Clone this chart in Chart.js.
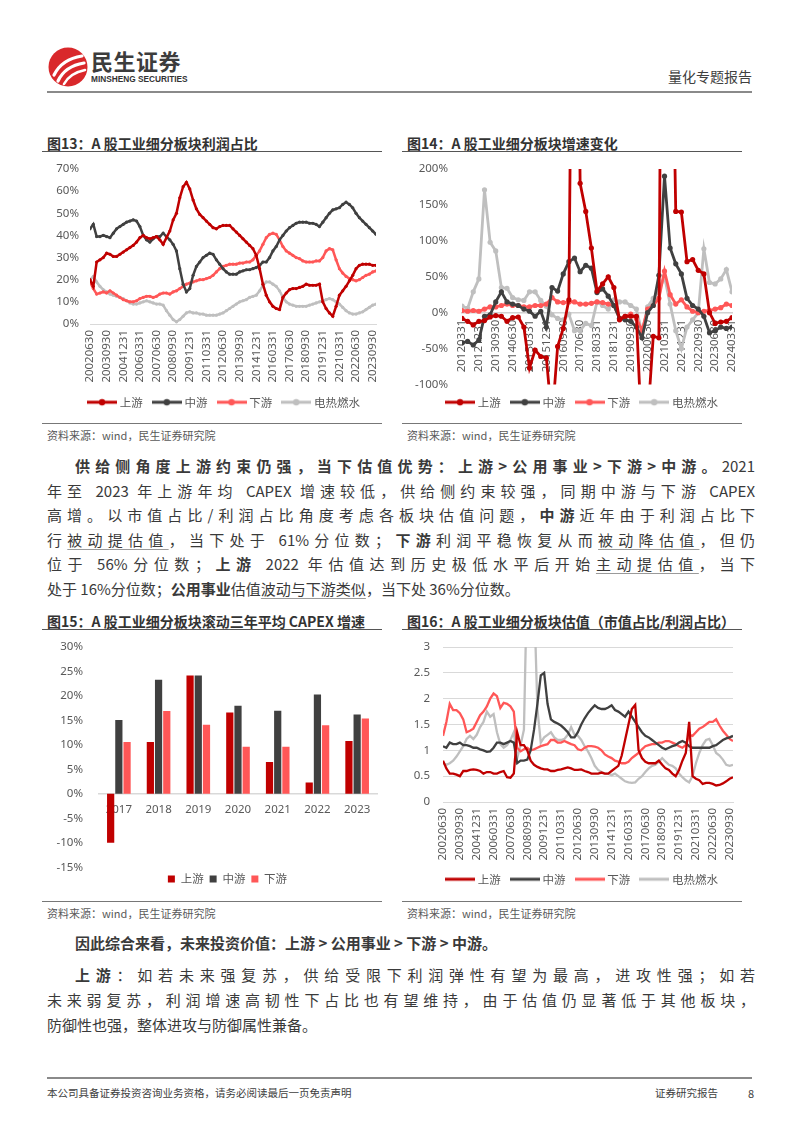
<!DOCTYPE html>
<html><head><meta charset="utf-8">
<script src="https://cdn.jsdelivr.net/npm/chart.js@4.4.1/dist/chart.umd.min.js"></script>
<style>
body{margin:0;background:#fff;}
#page{position:relative;width:802px;height:1133px;overflow:hidden;font-family:"Noto Sans CJK SC","Noto Sans",sans-serif;color:#404040;background:#fff;}
.title{position:absolute;font-size:14px;font-weight:bold;color:#333;white-space:nowrap;line-height:18px;}
.rule{position:absolute;height:0;border-top:1.5px solid #555;}
.src{position:absolute;font-size:11px;color:#595959;white-space:nowrap;line-height:14px;}
.ln{position:absolute;left:47px;width:708px;font-size:15px;line-height:20px;white-space:nowrap;color:#3a3a3a;}
.j{text-align:justify;text-align-last:justify;}
.u{text-decoration:underline;text-decoration-color:#9a9a9a;text-underline-offset:3px;}
canvas{position:absolute;}
</style></head>
<body><div id="page">
<svg width="42" height="42" viewBox="0 0 42 42" style="position:absolute;left:47px;top:46px">
  <circle cx="21" cy="21" r="19.5" fill="#D9282B"/>
  <path d="M7 29 Q15 13 35 10" stroke="#fff" stroke-width="3.2" fill="none" stroke-linecap="round"/>
  <path d="M11 35 Q18 20 37 17" stroke="#fff" stroke-width="3.2" fill="none" stroke-linecap="round"/>
  <path d="M17 38 Q23 27 38 24" stroke="#fff" stroke-width="2.6" fill="none" stroke-linecap="round"/>
</svg>
<div style="position:absolute;left:91px;top:47px;font-size:22px;font-weight:bold;color:#3c3c3c;line-height:26px;letter-spacing:0.5px">民生证券</div>
<div style="position:absolute;left:91px;top:73px;font-size:9px;font-weight:bold;color:#333;line-height:12px;font-family:'Liberation Sans',sans-serif;transform:scaleX(0.92);transform-origin:left">MINSHENG SECURITIES</div>
<div style="position:absolute;right:50px;top:66px;font-size:14px;color:#404040;line-height:20px">量化专题报告</div>
<div style="position:absolute;left:47px;top:91px;width:705px;height:2px;background:#8a8a8a"></div>

<div class="title" style="left:47px;top:134px">图13：A 股工业细分板块利润占比</div>
<div class="rule" style="left:42px;top:151px;width:340px"></div>
<div class="title" style="left:407px;top:134px">图14：A 股工业细分板块增速变化</div>
<div class="rule" style="left:402px;top:151px;width:340px"></div>

<canvas id="c13" width="340" height="265" style="left:42px;top:155px"></canvas>
<canvas id="c14" width="340" height="265" style="left:402px;top:155px"></canvas>

<div class="rule" style="left:42px;top:423px;width:340px;border-top-color:#777"></div>
<div class="rule" style="left:402px;top:423px;width:340px;border-top-color:#777"></div>
<div class="src" style="left:47px;top:428px">资料来源：wind，民生证券研究院</div>
<div class="src" style="left:407px;top:428px">资料来源：wind，民生证券研究院</div>

<div class="ln j" style="top:456px;left:75px;width:680px"><b>供给侧角度上游约束仍强，当下估值优势：上游&gt;公用事业&gt;下游&gt;中游。</b>2021</div>
<div class="ln j" style="top:480.5px">年至 2023 年上游年均 CAPEX 增速较低，供给侧约束较强，同期中游与下游 CAPEX</div>
<div class="ln j" style="top:505px">高增。以市值占比/利润占比角度考虑各板块估值问题，<b>中游</b>近年由于利润占比下</div>
<div class="ln j" style="top:529.5px">行<span class="u">被动提估值</span>，当下处于 61%分位数；<b>下游</b>利润平稳恢复从而<span class="u">被动降估值</span>，但仍</div>
<div class="ln j" style="top:554px">位于 56%分位数；<b>上游</b> 2022 年估值达到历史极低水平后开始<span class="u">主动提估值</span>，当下</div>
<div class="ln" style="top:578.5px">处于 16%分位数；<b>公用事业</b>估值<span class="u">波动与下游类似</span>，当下处 36%分位数。</div>

<div class="title" style="left:47px;top:612px">图15：A 股工业细分板块滚动三年平均 CAPEX 增速</div>
<div class="rule" style="left:42px;top:629px;width:340px"></div>
<div class="title" style="left:407px;top:612px">图16：A 股工业细分板块估值（市值占比/利润占比）</div>
<div class="rule" style="left:402px;top:629px;width:340px"></div>

<canvas id="c15" width="340" height="262" style="left:42px;top:634px"></canvas>
<canvas id="c16" width="340" height="262" style="left:402px;top:634px"></canvas>

<div class="rule" style="left:42px;top:901px;width:340px;border-top-color:#777"></div>
<div class="rule" style="left:402px;top:901px;width:340px;border-top-color:#777"></div>
<div class="src" style="left:47px;top:906px">资料来源：wind，民生证券研究院</div>
<div class="src" style="left:407px;top:906px">资料来源：wind，民生证券研究院</div>

<div class="ln" style="top:933px;left:75px;width:680px"><b>因此综合来看，未来投资价值：上游 &gt; 公用事业 &gt; 下游 &gt; 中游。</b></div>
<div class="ln j" style="top:965px;left:75px;width:680px"><b>上游</b>：如若未来强复苏，供给受限下利润弹性有望为最高，进攻性强；如若</div>
<div class="ln j" style="top:990px">未来弱复苏，利润增速高韧性下占比也有望维持，由于估值仍显著低于其他板块，</div>
<div class="ln" style="top:1015px">防御性也强，整体进攻与防御属性兼备。</div>

<div style="position:absolute;left:47px;top:1077px;width:705px;height:1.5px;background:#8a8a8a"></div>
<div style="position:absolute;left:47px;top:1086px;font-size:10.5px;color:#404040;line-height:14px">本公司具备证券投资咨询业务资格，请务必阅读最后一页免责声明</div>
<div style="position:absolute;left:655px;top:1086px;font-size:10.5px;color:#404040;line-height:14px">证券研究报告</div>
<div style="position:absolute;left:748px;top:1086px;font-size:11px;color:#404040;line-height:14px">8</div>
</div>

<script>
// ---------- categories ----------
const quarters13 = ['20020630','20020930','20021231',
'20030331','20030630','20030930','20031231','20040331','20040630','20040930','20041231',
'20050331','20050630','20050930','20051231','20060331','20060630','20060930','20061231',
'20070331','20070630','20070930','20071231','20080331','20080630','20080930','20081231',
'20090331','20090630','20090930','20091231','20100331','20100630','20100930','20101231',
'20110331','20110630','20110930','20111231','20120331','20120630','20120930','20121231',
'20130331','20130630','20130930','20131231','20140331','20140630','20140930','20141231',
'20150331','20150630','20150930','20151231','20160331','20160630','20160930','20161231',
'20170331','20170630','20170930','20171231','20180331','20180630','20180930','20181231',
'20190331','20190630','20190930','20191231','20200331','20200630','20200930','20201231',
'20210331','20210630','20210930','20211231','20220331','20220630','20220930','20221231',
'20230331','20230630','20230930','20231231'];
const ticks13 = ['20020630','20030930','20041231','20060331','20070630','20080930','20091231','20110331','20120630','20130930','20141231','20160331','20170630','20180930','20191231','20210331','20220630','20230930'];

const quarters14 = ['20120331','20120630','20120930','20121231','20130331','20130630','20130930','20131231',
'20140331','20140630','20140930','20141231','20150331','20150630','20150930','20151231',
'20160331','20160630','20160930','20161231','20170331','20170630','20170930','20171231',
'20180331','20180630','20180930','20181231','20190331','20190630','20190930','20191231',
'20200331','20200630','20200930','20201231','20210331','20210630','20210930','20211231',
'20220331','20220630','20220930','20221231','20230331','20230630','20230930','20231231','20240331'];
const ticks14 = ['20120331','20121231','20130930','20140630','20150331','20151231','20160930','20170630','20180331','20181231','20190930','20200630','20210331','20211231','20220930','20230630','20240331'];

const years15 = ['2017','2018','2019','2020','2021','2022','2023'];
const seriesNames = ['上游','中游','下游','电热燃水'];

// ---------- 图13 利润占比 (%) ----------
const up13 = [20,17,28,29,30,32,31.5,30.5,30.5,31.5, 32.5,33.5,34.5,35.5,37,39,40,39,38.5,39,
 39.5,38,36,39,42,47,50,57,62,64, 61,56,52,49.5,48,46.5,45,43.5,43,44,
 44.5,44.5,44.5,43,41.5,40,38.5,37,35.5,34, 31,25,18,13,10,8,7,6.5,12,14,
 15.5,16,16,16.5,17,18,17.5,17.5,17.5,18, 10,7,5,3.5,8,13,15,17,19.5,22,
 25,26.5,27,27,27,26.5,26.5];
const mid13 = [43,45,39.5,39.5,40,39.5,39,41,43,44, 45,46,46.5,47,46.5,44,40,38,37,38.5,
 39.5,39.5,41,39.5,38,36,33,25,18,14.5, 16,22,26,28,30,31,32,31.5,29,27,
 25,23.5,22.5,22.5,22.5,23.5,24,24.5,24.5,25, 25.5,26.5,28,28,30,33,35,38,40,42,
 43.5,44.5,45.5,46,46,46,45.5,45.5,45,44, 46,48,50,51.5,52,52.5,54,55,54,52.5,
 50,48,46.5,45,43.5,42,40.5];
const down13 = [19,16,13.5,14,14.5,14,15,14,13,12, 11,10.5,10,10,10.5,11.5,12,12.5,12.5,12,
 12.5,13.5,14,14,13.5,14.5,15,16,17,18, 18.5,19,19.5,20,20,20.5,21,22,23.5,25,
 26,26.5,27,27,27,27.5,27.5,28,28,29, 31,33,36,39,40.5,41,40.5,38,35,33,
 32,31,30,29.5,28.5,28,28,28,28.5,28.5, 30,33,34,33.5,29,25,23,21.5,20.5,20,
 19.5,20,21,22,22.5,23.5,24];
const util13 = [20,21.5,19,17,15.5,14.5,13.5,13,12.5,12, 11.5,10.5,9.5,9,9,9.5,10,10.5,10,9.5,
 9,9,8.5,6,4,2,1,2,3.5,5, 5.5,5,5,4.5,4.5,4,4,4,4,4.5,
 5,6,7,8,9,10,10.5,11,12,12.5, 13,15,17.5,19,19,18,17,15,12,10,
 9,8.5,8,8,8,8,8.5,9,9.5,10, 10.5,11,11.5,11,10,9,7.5,6,5,4.5,
 4.5,5,5.5,6.5,7.5,8.5,9];

// ---------- 图14 增速 (%) ----------
const up14 = [-8,-12,-17,-12,-11,-6,-4,-5,-12,-7, -6,-20,-77,-52,-61,-63,-150,-47,-22,18,
 900,180,141,90,30,40,50,35,-10,-5, -5,-5,-180,-150,-33,-35,1200,600,141,140,
 71,74,59,54,0,-15,-13,-12,-7];
const mid14 = [-42,-40,-45,-38,-5,-3,15,29,15,12, 10,5,2,-5,2,-20,35,30,54,71,
 76,57,66,62,28,33,23,10,-8,-10, -12,-20,-35,0,10,52,190,90,68,54,
 20,10,5,-5,-28,-25,-20,-22,-20];
const down14 = [3,2,3,2,5,8,8,10,12,10, 10,8,8,10,10,12,21,15,14,15,
 15,12,12,13,15,14,12,10,-8,-5, -2,-8,-25,5,10,20,58,25,12,18,
 8,2,0,2,3,5,7,12,10];
const util14 = [9,6,29,47,171,98,86,35,34,21, 18,17,29,29,17,9,-3,-8,-10,-2,
 -25,-25,-15,-18,15,10,5,18,15,15, 10,5,-28,8,20,30,50,12,-25,-50,
 -20,-10,0,89,42,40,47,60,29];

// ---------- 图15 CAPEX 增速 (%) ----------
const up15 = [-10,10.6,24.2,16.6,6.5,2.3,10.8];
const mid15 = [15.1,23.3,24.2,18.0,17.0,20.3,16.2];
const down15 = [10.6,16.9,14.1,9.6,9.6,14.0,15.4];

// ---------- 图16 估值 ----------
const up16 = [0.8,0.65,0.55,0.55,0.53,0.5,0.6,0.6,0.62,0.63, 0.62,0.6,0.55,0.58,0.58,0.55,0.55,0.58,0.6,0.48,
 0.47,0.55,1.35,1.1,1.1,1.0,0.8,0.72,0.68,0.65, 0.63,0.63,0.6,0.6,0.62,0.63,0.65,0.67,0.65,0.62,
 0.62,0.63,0.6,0.58,0.55,0.55,0.55,0.57,0.55,0.55, 0.6,0.65,0.7,0.9,1.2,1.5,1.8,1.88,1.0,0.85,
 0.78,0.75,0.75,0.75,0.8,0.72,0.65,0.62,0.55,0.5, 0.62,0.8,0.95,1.55,0.5,0.45,0.42,0.35,0.37,0.37,
 0.35,0.32,0.33,0.36,0.4,0.45,0.48];
const mid16 = [1.08,1.05,1.15,1.12,1.12,1.15,1.1,1.1,1.08,1.05, 1.05,1.02,1.0,0.97,0.98,1.05,1.15,1.15,1.12,1.15,
 1.18,1.15,0.75,0.8,0.8,0.82,1.0,1.4,1.9,2.45, 2.5,1.9,1.6,1.55,1.52,1.48,1.42,1.35,1.25,1.25,
 1.35,1.5,1.62,1.72,1.8,1.87,1.82,1.8,1.8,1.83, 1.87,1.78,1.75,1.7,1.65,1.75,1.65,1.55,1.45,1.35,
 1.28,1.25,1.2,1.15,1.1,1.05,1.02,1.05,1.08,1.1, 1.15,1.18,1.15,1.08,1.05,1.05,1.05,1.05,1.05,1.05,
 1.08,1.1,1.15,1.2,1.23,1.25,1.28];
const down16 = [1.28,1.55,1.9,1.78,1.78,1.72,1.6,1.35,1.38,1.42, 1.55,1.68,1.75,1.85,2.0,2.1,2.05,1.82,1.92,1.9,
 1.85,1.75,1.05,0.98,1.02,1.05,1.0,1.02,1.05,1.08, 1.1,1.12,1.2,1.2,1.15,1.15,1.18,1.15,1.12,1.1,
 1.02,1.0,1.05,1.08,1.08,1.07,1.05,1.0,0.92,0.88, 0.85,0.8,0.78,0.75,0.75,0.78,0.85,0.9,0.95,1.02,
 1.08,1.1,1.12,1.12,1.15,1.15,1.18,1.18,1.15,1.12, 1.08,1.05,1.1,1.3,1.28,1.35,1.42,1.45,1.5,1.55,
 1.55,1.6,1.48,1.38,1.3,1.22,1.18];
const util16 = [0.75,0.72,0.75,0.8,0.88,0.98,1.08,1.22,1.28,1.22, 1.3,1.45,1.55,1.75,1.65,1.7,1.35,1.12,1.05,1.1,
 1.2,1.35,0.85,1.1,1.4,4.5,5,4,1.8,1.15, 1.25,1.3,1.35,1.25,1.2,1.2,1.22,1.3,1.45,1.3,
 1.28,1.2,1.08,0.98,0.85,0.7,0.62,0.58,0.55,0.55, 0.52,0.55,0.5,0.45,0.4,0.38,0.37,0.38,0.45,0.5,
 0.58,0.65,0.7,0.72,0.78,0.85,0.78,0.72,0.7,0.65, 0.55,0.48,0.42,0.38,0.5,0.75,0.95,1.1,1.2,1.22,
 1.1,0.95,0.9,0.82,0.72,0.7,0.72];

// ---------- styling ----------
const COLORS = ['#C00000','#404040','#FF5757','#BFBFBF'];
Chart.defaults.font.family = "'Noto Sans','Noto Sans CJK SC',sans-serif";
Chart.defaults.color = '#595959';
Chart.defaults.animation = false;

function icon(color, dot, lw) {
  const c = document.createElement('canvas');
  c.width = 30; c.height = 10;
  const g = c.getContext('2d');
  g.strokeStyle = color; g.lineWidth = lw; g.lineCap = 'butt';
  g.beginPath(); g.moveTo(0, 5); g.lineTo(30, 5); g.stroke();
  if (dot) { g.fillStyle = color; g.beginPath(); g.arc(15, 5, dot, 0, Math.PI * 2); g.fill(); }
  return c;
}
const iconsDot = COLORS.map(c => icon(c, 3.2, 3));
const iconsLine = COLORS.map(c => icon(c, 0, 3));

const legendShift = {
  id: 'legendShift',
  afterLayout(chart, args, opts) {
    const l = chart.legend;
    if (l && opts && opts.dx) { l.left += opts.dx; l.right += opts.dx; }
  }
};

function lineLegend(icons) {
  return {
    position: 'bottom',
    labels: {
      usePointStyle: true, pointStyleWidth: 24, padding: 12, color: '#595959',
      font: {size: 11.5, family: "'Noto Sans CJK SC',sans-serif"},
      generateLabels(chart) {
        return chart.data.datasets.map((d, i) => ({
          text: d.label, pointStyle: icons[i], fillStyle: d.borderColor,
          strokeStyle: d.borderColor, lineWidth: 0, hidden: false, datasetIndex: i, fontColor: '#595959'
        }));
      }
    }
  };
}

function lineDatasets(arrs, width, radius) {
  return arrs.map((a, i) => ({
    label: seriesNames[i], data: a, borderColor: COLORS[i], backgroundColor: COLORS[i],
    borderWidth: width, pointRadius: radius, pointBorderWidth: 0, pointBackgroundColor: COLORS[i],
    pointHoverRadius: radius, tension: 0, clip: 0
  }));
}

function rotTicks(list, pad) {
  return {
    autoSkip: false, minRotation: 90, maxRotation: 90, padding: pad, color: '#595959',
    font: {size: 11.5},
    callback(v) { const l = this.getLabelForValue(v); return list.includes(l) ? l : ''; }
  };
}
const pct = v => v + '%';
const plain = v => String(Math.round(v * 10) / 10);

// 图13
new Chart(document.getElementById('c13'), {
  type: 'line',
  data: {labels: quarters13, datasets: lineDatasets([up13, mid13, down13, util13], 2.5, 1.6)},
  options: {
    responsive: false, devicePixelRatio: 1,
    layout: {padding: {left: 0, right: 6, top: 14, bottom: 2}},
    plugins: {legend: lineLegend(iconsDot), tooltip: {enabled: false}, legendShift: {dx: 16}},
    scales: {
      x: {grid: {display: false, drawTicks: false}, border: {display: true, color: '#D9D9D9', width: 1},
          ticks: rotTicks(ticks13, 6),
          afterFit(s) { s.height = 60.5; s.paddingLeft = 0; s.paddingRight = 0; }},
      y: {min: 0, max: 70, grid: {display: false, drawTicks: false}, border: {display: false},
          ticks: {stepSize: 10, padding: 11, font: {size: 11.5}, color: '#595959', callback: pct},
          afterFit(s) { s.width = 48; s.paddingTop = 0; s.paddingBottom = 0; }}
    }
  },
  plugins: [legendShift]
});

// 图14
new Chart(document.getElementById('c14'), {
  type: 'line',
  data: {labels: quarters14, datasets: lineDatasets([up14, mid14, down14, util14], 2.8, 2.6)},
  options: {
    responsive: false, devicePixelRatio: 1,
    layout: {padding: {left: 0, right: 10, top: 14, bottom: 2}},
    plugins: {legend: lineLegend(iconsDot), tooltip: {enabled: false}, legendShift: {dx: 16}},
    scales: {
      x: {position: {y: 0}, grid: {display: false, drawTicks: false}, border: {display: true, color: '#D0D0D0', width: 1.5},
          ticks: rotTicks(ticks14, 7),
          afterFit(s) { s.height = 7.5; s.paddingLeft = 0; s.paddingRight = 0; }},
      y: {min: -100, max: 200, grid: {display: false, drawTicks: false}, border: {display: false},
          ticks: {stepSize: 50, padding: 14, font: {size: 11.5}, color: '#595959', callback: pct},
          afterFit(s) { s.width = 60; s.paddingTop = 0; s.paddingBottom = 0; }}
    }
  },
  plugins: [legendShift]
});

// 图15
new Chart(document.getElementById('c15'), {
  type: 'bar',
  data: {labels: years15, datasets: [up15, mid15, down15].map((a, i) => ({
    label: seriesNames[i], data: a, backgroundColor: COLORS[i], borderWidth: 0,
    categoryPercentage: 0.62, barPercentage: 0.88
  }))},
  options: {
    responsive: false, devicePixelRatio: 1,
    layout: {padding: {left: 0, right: 5, top: 13, bottom: 1.25}},
    plugins: {
      legend: {position: 'bottom', labels: {boxWidth: 7, boxHeight: 7, padding: 6, color: '#595959',
        font: {size: 11.5, family: "'Noto Sans CJK SC',sans-serif"}}},
      tooltip: {enabled: false}, legendShift: {dx: 18}
    },
    scales: {
      x: {position: {y: 0}, grid: {display: false, drawTicks: false}, border: {display: true, color: '#D9D9D9', width: 1.5},
          ticks: {padding: 8.5, font: {size: 11.5}, color: '#595959', maxRotation: 0},
          afterFit(s) { s.height = 14.25; s.paddingLeft = 0; s.paddingRight = 0; }},
      y: {min: -15, max: 30, grid: {display: false, drawTicks: false}, border: {display: false},
          ticks: {stepSize: 5, padding: 16, font: {size: 11.5}, color: '#595959', callback: pct},
          afterFit(s) { s.width = 57; s.paddingTop = 0; s.paddingBottom = 0; }}
    }
  },
  plugins: [legendShift]
});

// 图16
new Chart(document.getElementById('c16'), {
  type: 'line',
  data: {labels: quarters13, datasets: lineDatasets([up16, mid16, down16, util16], 2.3, 0)},
  options: {
    responsive: false, devicePixelRatio: 1,
    layout: {padding: {left: 0, right: 9, top: 13, bottom: 1}},
    plugins: {legend: lineLegend(iconsLine), tooltip: {enabled: false}, legendShift: {dx: 15.5}},
    scales: {
      x: {grid: {display: false, drawTicks: false}, border: {display: true, color: '#D9D9D9', width: 1},
          ticks: rotTicks(ticks13, 6),
          afterFit(s) { s.height = 59.5; s.paddingLeft = 0; s.paddingRight = 0; }},
      y: {min: 0, max: 3, grid: {display: true, color: '#D9D9D9', lineWidth: 1, drawTicks: false}, border: {display: false},
          ticks: {stepSize: 0.5, padding: 13, font: {size: 11.5}, color: '#595959', callback: plain},
          afterFit(s) { s.width = 41; s.paddingTop = 0; s.paddingBottom = 0; }}
    }
  },
  plugins: [legendShift]
});
</script>
</body></html>
